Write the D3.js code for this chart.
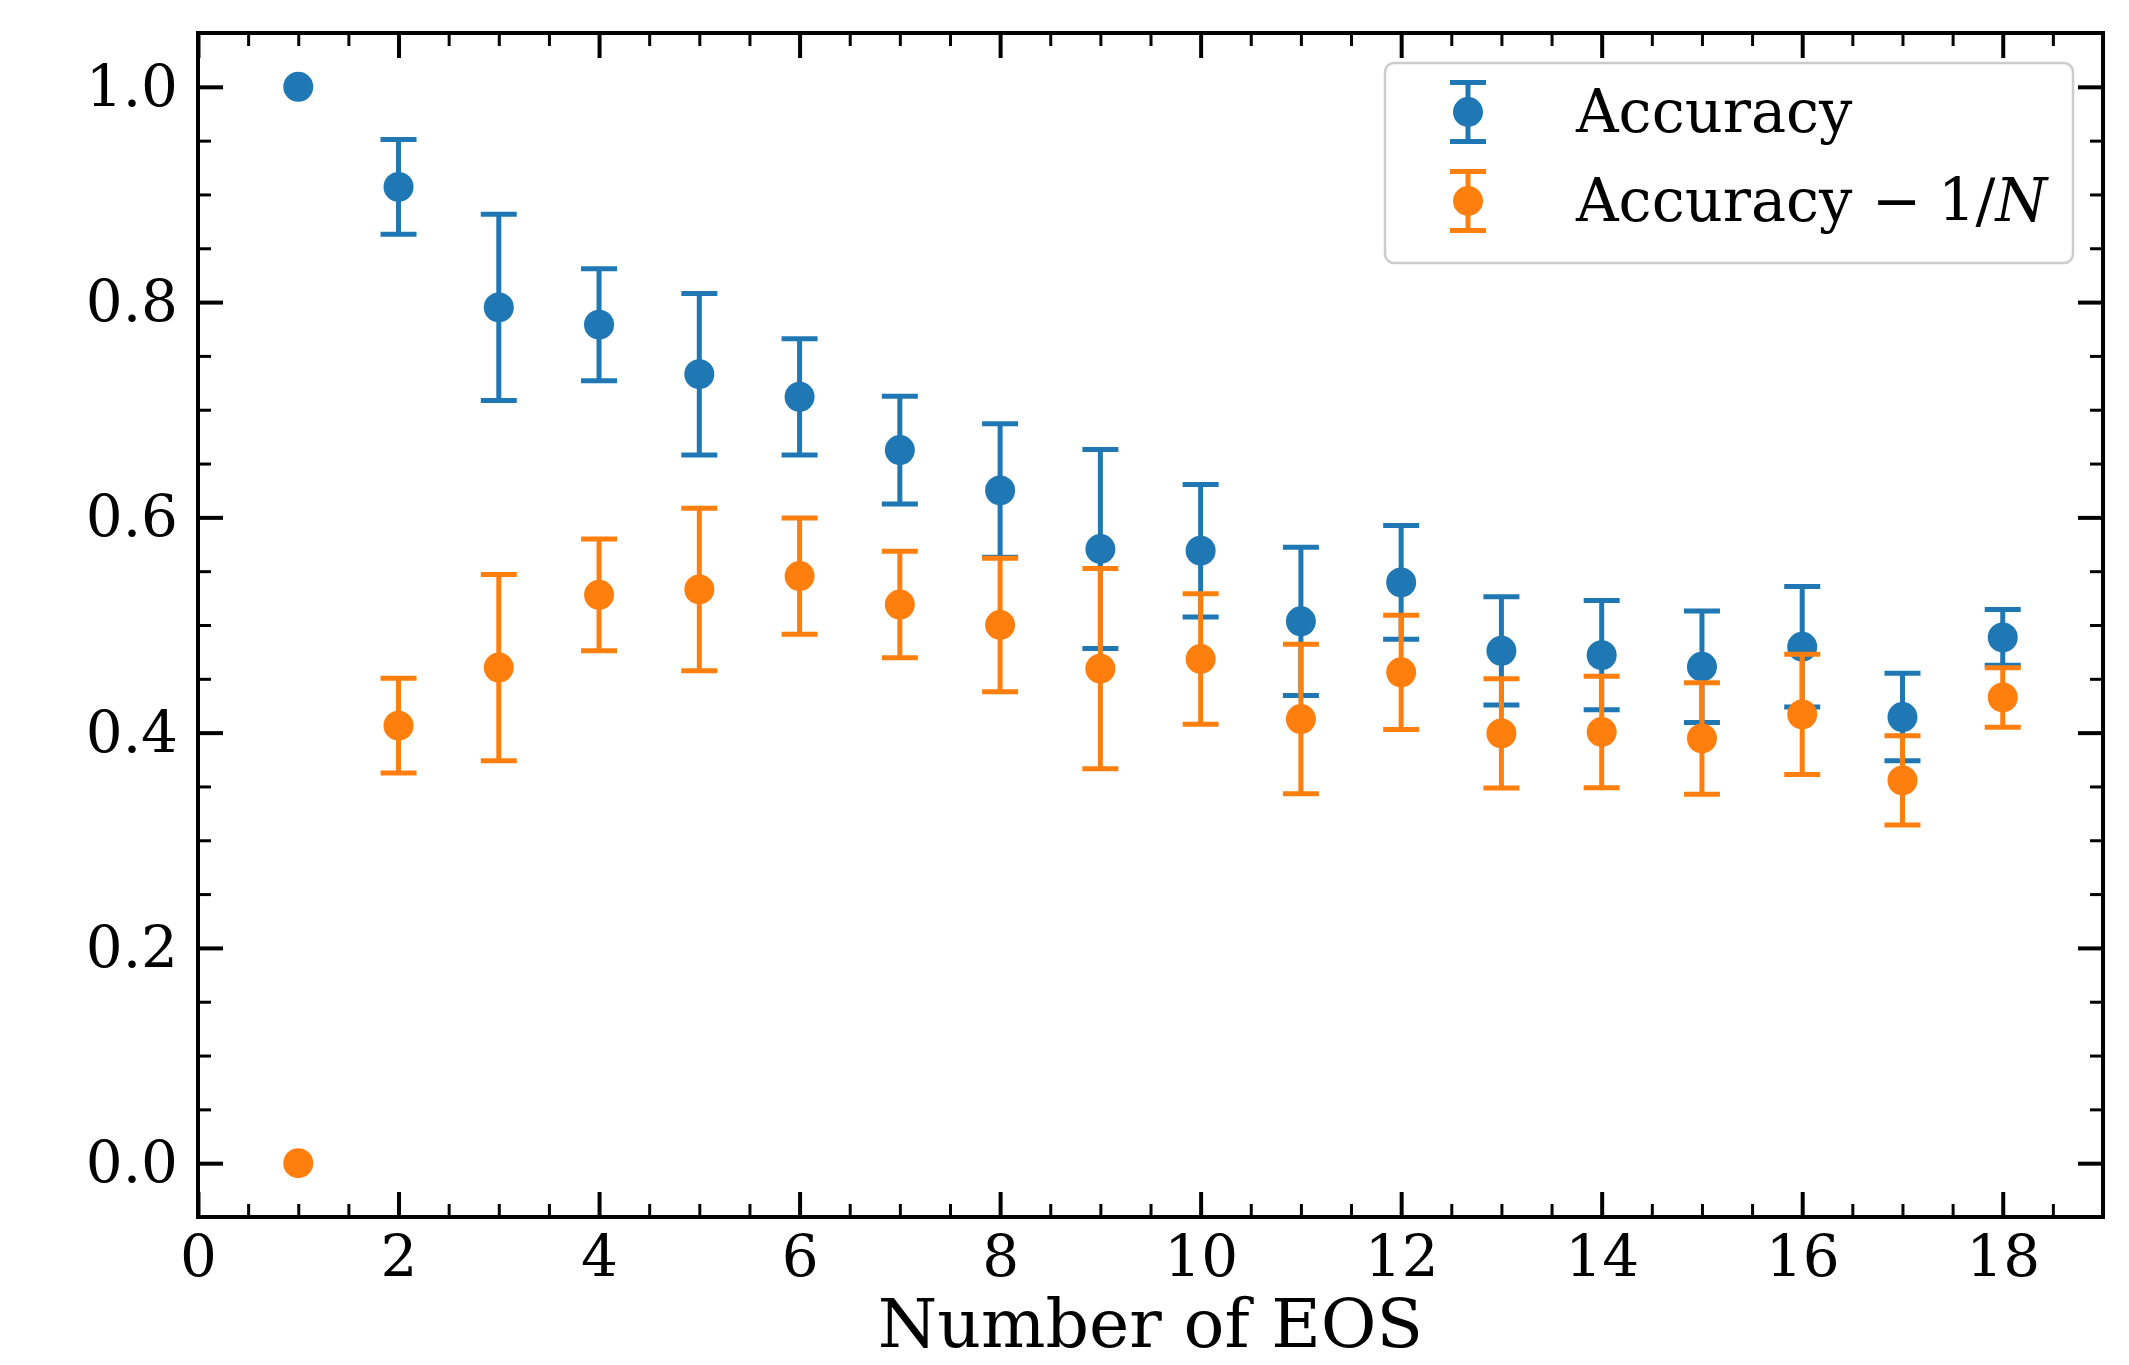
<!DOCTYPE html>
<html>
<head>
<meta charset="utf-8">
<script src="https://d3js.org/d3.v7.min.js"></script>
<style>
  html, body { margin: 0; padding: 0; background: #fff; }
  svg { display: block; }
  text { font-family: "DejaVu Serif", serif; fill: #000; }
</style>
</head>
<body>
<svg id="chart" width="2129" height="1365"></svg>
<script>
// ---- data ----
const numEOS = [1, 2, 3, 4, 5, 6, 7, 8, 9, 10, 11, 12, 13, 14, 15, 16, 17, 18];
const accuracy = [1.0, 0.907, 0.795, 0.779, 0.733, 0.712, 0.6625, 0.625, 0.5706, 0.569, 0.5034, 0.5396, 0.476, 0.472, 0.4612, 0.4798, 0.4145, 0.4885];
const accuracyErr = [0, 0.044, 0.0865, 0.052, 0.075, 0.054, 0.050, 0.062, 0.0925, 0.0615, 0.0688, 0.0528, 0.0503, 0.0508, 0.0518, 0.056, 0.0407, 0.026];
const accuracyMinusInvN = [0.0, 0.4065, 0.4604, 0.528, 0.533, 0.5455, 0.519, 0.500, 0.4594, 0.4684, 0.4126, 0.456, 0.3993, 0.4006, 0.3946, 0.4169, 0.3556, 0.4327];
const accuracyMinusInvNErr = [0, 0.044, 0.0865, 0.052, 0.0755, 0.054, 0.0495, 0.062, 0.093, 0.0607, 0.0694, 0.053, 0.0507, 0.0518, 0.0518, 0.0559, 0.0414, 0.0276];
const xTickValues = [0, 2, 4, 6, 8, 10, 12, 14, 16, 18];
const yTickValues = [0.0, 0.2, 0.4, 0.6, 0.8, 1.0];
const seriesNames = ["Accuracy", "Accuracy \u2212 1/N"];
const xLabel = "Number of EOS";

const colors = ["#1f77b4", "#ff7f0e"];

// ---- layout ----
const svg = d3.select("#chart");
const L = 198, R = 2103, T = 33, B = 1217;
const x = d3.scaleLinear().domain([0, 19]).range([L, R]);
const y = d3.scaleLinear().domain([-0.05, 1.05]).range([B, T]);

const series = [
  { name: seriesNames[0], vals: accuracy, errs: accuracyErr, color: colors[0] },
  { name: seriesNames[1], vals: accuracyMinusInvN, errs: accuracyMinusInvNErr, color: colors[1] }
];

const capW = 36, barW = 5, markerR = 15;

// ---- data marks ----
const plot = svg.append("g");
series.forEach(s => {
  const g = plot.append("g");
  const d = numEOS.map((n, i) => ({ n, v: s.vals[i], e: s.errs[i] }));
  const de = d.filter(p => p.e > 0);
  g.selectAll("line.bar").data(de).join("line")
    .attr("x1", p => x(p.n)).attr("x2", p => x(p.n))
    .attr("y1", p => y(p.v - p.e)).attr("y2", p => y(p.v + p.e))
    .attr("stroke", s.color).attr("stroke-width", barW);
  de.forEach(p => {
    [p.v - p.e, p.v + p.e].forEach(cv => {
      g.append("line")
        .attr("x1", x(p.n) - capW / 2).attr("x2", x(p.n) + capW / 2)
        .attr("y1", y(cv)).attr("y2", y(cv))
        .attr("stroke", s.color).attr("stroke-width", barW);
    });
  });
  g.selectAll("circle").data(d).join("circle")
    .attr("cx", p => x(p.n)).attr("cy", p => y(p.v)).attr("r", markerR)
    .attr("fill", s.color);
});

// ---- axes ----
const tickFont = 58;
const majorLen = 25, minorLen = 13;
const axes = svg.append("g");

function drawAxis(axisGen, transform, majorVals, minorVals) {
  const gMaj = axes.append("g").attr("transform", transform)
    .call(axisGen.tickValues(majorVals).tickSizeInner(-majorLen).tickSizeOuter(0));
  const gMin = axes.append("g").attr("transform", transform)
    .call(axisGen.tickValues(minorVals).tickSizeInner(-minorLen).tickSizeOuter(0).tickFormat(""));
  [gMaj, gMin].forEach(g => g.select(".domain").remove());
  gMaj.selectAll(".tick line").attr("stroke", "#000").attr("stroke-width", 4);
  gMin.selectAll(".tick line").attr("stroke", "#000").attr("stroke-width", 3);
  gMin.selectAll(".tick text").remove();
  return gMaj;
}

const xMinor = d3.range(0, 19.01, 0.5).filter(v => !xTickValues.includes(v));
const yMinor = d3.range(-0.05, 1.0501, 0.05).map(v => Math.round(v * 100) / 100).filter(v => !yTickValues.some(t => Math.abs(t - v) < 1e-9));

// bottom
const gb = drawAxis(d3.axisBottom(x).tickPadding(18).tickFormat(d3.format("d")), `translate(0,${B})`, xTickValues, xMinor);
gb.selectAll(".tick text").attr("font-size", tickFont).attr("font-family", "DejaVu Serif").attr("fill", "#000");
// top
const gt = drawAxis(d3.axisTop(x), `translate(0,${T})`, xTickValues, xMinor);
gt.selectAll(".tick text").remove();
// left
const gl = drawAxis(d3.axisLeft(y).tickPadding(20).tickFormat(d3.format(".1f")), `translate(${L},0)`, yTickValues, yMinor);
gl.selectAll(".tick text").attr("font-size", tickFont).attr("font-family", "DejaVu Serif").attr("fill", "#000");
// right
const gr = drawAxis(d3.axisRight(y), `translate(${R},0)`, yTickValues, yMinor);
gr.selectAll(".tick text").remove();

// frame
axes.append("rect").attr("x", L).attr("y", T).attr("width", R - L).attr("height", B - T)
  .attr("fill", "none").attr("stroke", "#000").attr("stroke-width", 4);

// x label
svg.append("text").attr("x", (L + R) / 2).attr("y", 1347)
  .attr("text-anchor", "middle").attr("font-size", 68).text(xLabel);

// ---- legend ----
const lg = svg.append("g");
lg.append("rect").attr("x", 1385).attr("y", 63).attr("width", 688).attr("height", 200)
  .attr("rx", 9).attr("ry", 9)
  .attr("fill", "#fff").attr("fill-opacity", 0.8)
  .attr("stroke", "#cccccc").attr("stroke-width", 2.5);
const legendRows = [112, 201];
series.forEach((s, i) => {
  const cy = legendRows[i], cx = 1468, h = 29.5;
  lg.append("line").attr("x1", cx).attr("x2", cx).attr("y1", cy - h).attr("y2", cy + h)
    .attr("stroke", s.color).attr("stroke-width", barW);
  [cy - h, cy + h].forEach(cv => lg.append("line")
    .attr("x1", cx - capW / 2).attr("x2", cx + capW / 2).attr("y1", cv).attr("y2", cv)
    .attr("stroke", s.color).attr("stroke-width", barW));
  lg.append("circle").attr("cx", cx).attr("cy", cy).attr("r", markerR).attr("fill", s.color);
});
lg.append("text").attr("x", 1576).attr("y", 132).attr("font-size", 59).text(seriesNames[0]);
const t2 = lg.append("text").attr("x", 1576).attr("y", 221).attr("font-size", 59);
t2.append("tspan").text("Accuracy");
t2.append("tspan").attr("x", 1872).text("\u2212");
t2.append("tspan").attr("x", 1938).text("1/");
t2.append("tspan").attr("font-style", "italic").text("N");
</script>
</body>
</html>
